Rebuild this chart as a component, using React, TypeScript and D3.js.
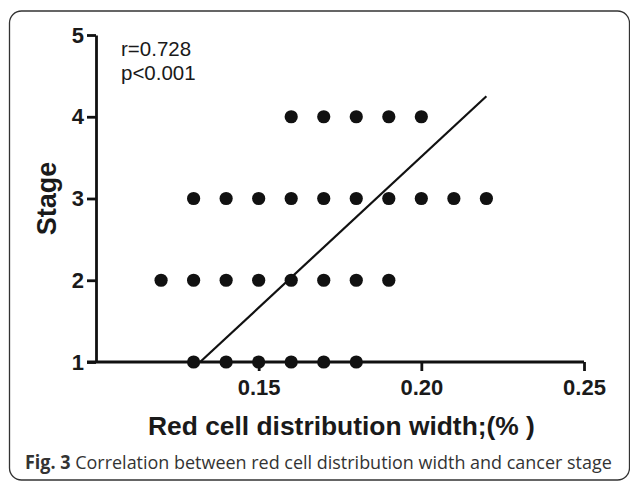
import React, { useEffect, useRef } from "react";
import * as d3 from "d3";

// RDW values, one list per stage
const stageLevels = [1, 2, 3, 4];
const stage1Rdw = [0.13, 0.14, 0.15, 0.16, 0.17, 0.18];
const stage2Rdw = [0.12, 0.13, 0.14, 0.15, 0.16, 0.17, 0.18, 0.19];
const stage3Rdw = [0.13, 0.14, 0.15, 0.16, 0.17, 0.18, 0.19, 0.2, 0.21, 0.22];
const stage4Rdw = [0.16, 0.17, 0.18, 0.19, 0.2];

// regression line end points
const fitRdw = [0.132, 0.22];
const fitStage = [1, 4.25];

const xTicks = [0.15, 0.2, 0.25];
const yTicks = [1, 2, 3, 4, 5];
const statLines = ["r=0.728", "p<0.001"];

const W = 630;
const H = 483;
const FONT = "'Liberation Sans', Arial, sans-serif";

export default function App() {
  const ref = useRef<SVGSVGElement | null>(null);

  useEffect(() => {
    const svg = d3.select(ref.current);
    svg.selectAll("*").remove();

    const x = d3.scaleLinear().domain([0.1, 0.25]).range([96, 584]);
    const y = d3.scaleLinear().domain([1, 5]).range([362, 35]);

    // frame around figure + caption
    svg.append("rect")
      .attr("x", 9.5).attr("y", 11).attr("width", 620).attr("height", 469)
      .attr("rx", 12).attr("fill", "none").attr("stroke", "#333").attr("stroke-width", 1.3);

    const yAxis = d3.axisLeft(y).tickValues(yTicks).tickFormat(d3.format("d")).tickSize(9).tickSizeOuter(0).tickPadding(3);
    const gy = svg.append("g").attr("transform", `translate(${x(0.1)},0)`).call(yAxis);

    const xAxis = d3.axisBottom(x).tickValues(xTicks).tickFormat(d3.format(".2f")).tickSize(9).tickSizeOuter(0).tickPadding(8);
    const gx = svg.append("g").attr("transform", `translate(0,${y(1)})`).call(xAxis);

    [gx, gy].forEach((g) => {
      g.select(".domain").attr("stroke", "#111").attr("stroke-width", 2.8);
      g.selectAll(".tick line").attr("stroke", "#111").attr("stroke-width", 2.8);
      g.selectAll(".tick text")
        .attr("fill", "#1a1a1a")
        .style("font-family", FONT)
        .style("font-weight", "bold")
        .style("font-size", "22px");
    });
    // x axis line reaches back to the y tick at 1
    gx.select(".domain").attr("d", `M${x(0.1) - 9},0H${x(0.25)}`);

    const rows = [stage1Rdw, stage2Rdw, stage3Rdw, stage4Rdw];
    const pts = rows.flatMap((r, i) => r.map((v) => ({ rdw: v, stage: stageLevels[i] })));

    const line = d3.line<number>().x((d, i) => x(fitRdw[i])).y((d, i) => y(fitStage[i]));
    svg.append("path")
      .attr("d", line(fitRdw))
      .attr("fill", "none").attr("stroke", "#111").attr("stroke-width", 2.2);

    svg.append("g").selectAll("circle").data(pts).enter().append("circle")
      .attr("cx", (d) => x(d.rdw))
      .attr("cy", (d) => y(d.stage))
      .attr("r", 6.6)
      .attr("fill", "#111");

    svg.append("g").selectAll("text").data(statLines).enter().append("text")
      .attr("x", 121).attr("y", (d, i) => 56 + i * 24)
      .attr("fill", "#1a1a1a")
      .style("font-family", FONT)
      .style("font-size", "20.5px")
      .text((d) => d);

    svg.append("text")
      .attr("transform", `translate(56,${y(3)}) rotate(-90)`)
      .attr("text-anchor", "middle")
      .attr("fill", "#1a1a1a")
      .style("font-family", FONT)
      .style("font-weight", "bold")
      .style("font-size", "27px")
      .text("Stage");

    const title = svg.append("text")
      .attr("fill", "#1a1a1a")
      .style("font-family", FONT)
      .style("font-weight", "bold")
      .style("font-size", "26px")
      .text("Red cell distribution width;(% )");
    const tLen = (title.node() as SVGTextElement).getComputedTextLength();
    title.attr("transform", `translate(148,435) scale(${387 / tLen},1)`);

    // caption: squeeze horizontally to the width it has in the figure
    const cap = svg.append("text")
      .attr("fill", "#333")
      .style("font-family", "'Open Sans', sans-serif")
      .style("font-size", "19px");
    cap.append("tspan").style("font-weight", "bold").text("Fig. 3");
    cap.append("tspan").text(" Correlation between red cell distribution width and cancer stage");
    const cLen = (cap.node() as SVGTextElement).getComputedTextLength();
    cap.attr("transform", `translate(25,469) scale(${587 / cLen},1)`);
  }, []);

  return (
    <svg ref={ref} width={W} height={H} style={{ position: "absolute", left: 0, top: 0, background: "#fff" }} />
  );
}
